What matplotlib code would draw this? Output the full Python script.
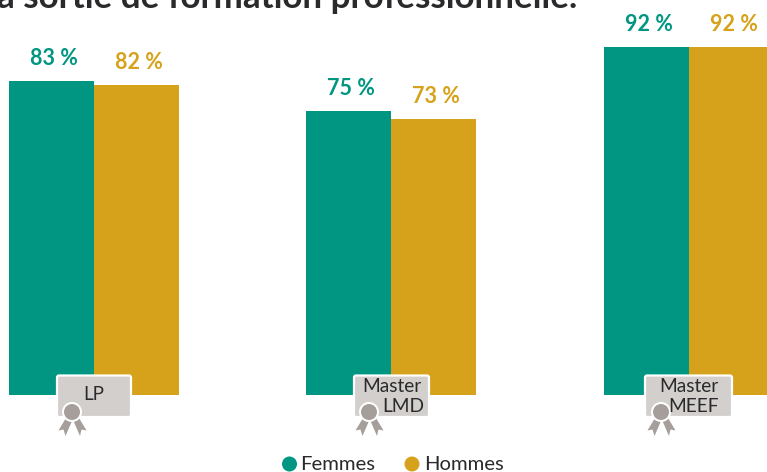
import matplotlib
matplotlib.use('Agg')
import matplotlib.pyplot as plt
from matplotlib.patches import Circle, FancyBboxPatch, Polygon

diplomes = ['LP', 'Master\nLMD', 'Master\nMEEF']
femmes = [83, 75, 92]
hommes = [82, 73, 92]
series_names = ['Femmes', 'Hommes']
titre = 'a sortie de formation professionnelle.'

VERT = '#009682'
OR = '#D6A21C'
GRIS = '#D2CFCD'
GRIS_MEDAILLE = '#A59E9B'
NOIR = '#2A2A2C'

plt.rcParams['font.family'] = ['Lato', 'DejaVu Sans']

fig = plt.figure(figsize=(7.67, 4.72), dpi=100)

# axe des barres : 0 % a y=395 px, 3.783 px par point
px_par_point = 3.783
ax = fig.add_axes([0, 0, 1, 1])
ax.set_xlim(0, 767)
ax.set_ylim(-(472 - 395) / px_par_point, 395 / px_par_point)
ax.axis('off')

# axe en pixels pour le decor (titre, badges, legende)
deco = fig.add_axes([0, 0, 1, 1])
deco.set_xlim(0, 767)
deco.set_ylim(472, 0)
deco.axis('off')
deco.patch.set_alpha(0)

centres = [94, 391, 689]
largeur = 85
for i, c in enumerate(centres):
    ax.bar(c - largeur / 2, femmes[i], largeur, color=VERT, linewidth=0)
    ax.bar(c + largeur / 2, hommes[i], largeur, color=OR, linewidth=0)
    ax.text(c - largeur / 2 + 2, femmes[i] + 5.9, f'{femmes[i]} %', color=VERT,
            ha='center', va='center', fontsize=15.5, fontweight='bold')
    ax.text(c + largeur / 2 + 2, hommes[i] + 5.9, f'{hommes[i]} %', color=OR,
            ha='center', va='center', fontsize=15.5, fontweight='bold')

deco.text(-3, 8, titre, color=NOIR, fontsize=25.2, fontweight='bold', ha='left', va='baseline')

# badges
badges = [(56, 132, 72), (353, 430, 369), (644, 733, 661)]
for (x0, x1, cx), nom in zip(badges, diplomes):
    deco.add_patch(FancyBboxPatch((x0 + 1, 375.5), x1 - x0 - 2, 41.5, boxstyle='round,pad=0,rounding_size=2',
                                  facecolor=GRIS, edgecolor='white', linewidth=1.6))
    # rubans
    deco.add_patch(Polygon([(cx - 6, 418), (cx - 13.5, 430.5), (cx - 8.5, 429.5), (cx - 6.5, 436), (cx, 421)],
                           facecolor=GRIS_MEDAILLE, edgecolor='none'))
    deco.add_patch(Polygon([(cx + 1.5, 421), (cx + 8, 436), (cx + 9.5, 429.5), (cx + 14.5, 430.5), (cx + 7, 418)],
                           facecolor=GRIS_MEDAILLE, edgecolor='none'))
    deco.add_patch(Circle((cx, 412), 10, facecolor='white', edgecolor='none'))
    deco.add_patch(Circle((cx, 412), 8, facecolor=GRIS_MEDAILLE, edgecolor='none'))
    lignes = nom.split('\n')
    if len(lignes) == 1:
        deco.text((x0 + x1) / 2, 394, nom, color=NOIR, fontsize=13.5, ha='center', va='center')
    else:
        droite = x1 - 6 if lignes[1] == 'LMD' else x1 - 14
        deco.text((x0 + x1) / 2 + (0 if lignes[1] == 'LMD' else 0.5), 387, lignes[0], color=NOIR, fontsize=13.8,
                  ha='center', va='center')
        deco.text(droite, 406, lignes[1], color=NOIR, fontsize=13.8, ha='right', va='center')

# legende
deco.add_patch(Circle((289.5, 464), 7.5, facecolor=VERT, edgecolor='none'))
deco.text(300, 464.5, series_names[0], color=NOIR, fontsize=14.6, ha='left', va='center')
deco.add_patch(Circle((412, 464), 7.5, facecolor=OR, edgecolor='none'))
deco.text(424, 464.5, series_names[1], color=NOIR, fontsize=14.6, ha='left', va='center')

fig.savefig('out.png', dpi=100)
